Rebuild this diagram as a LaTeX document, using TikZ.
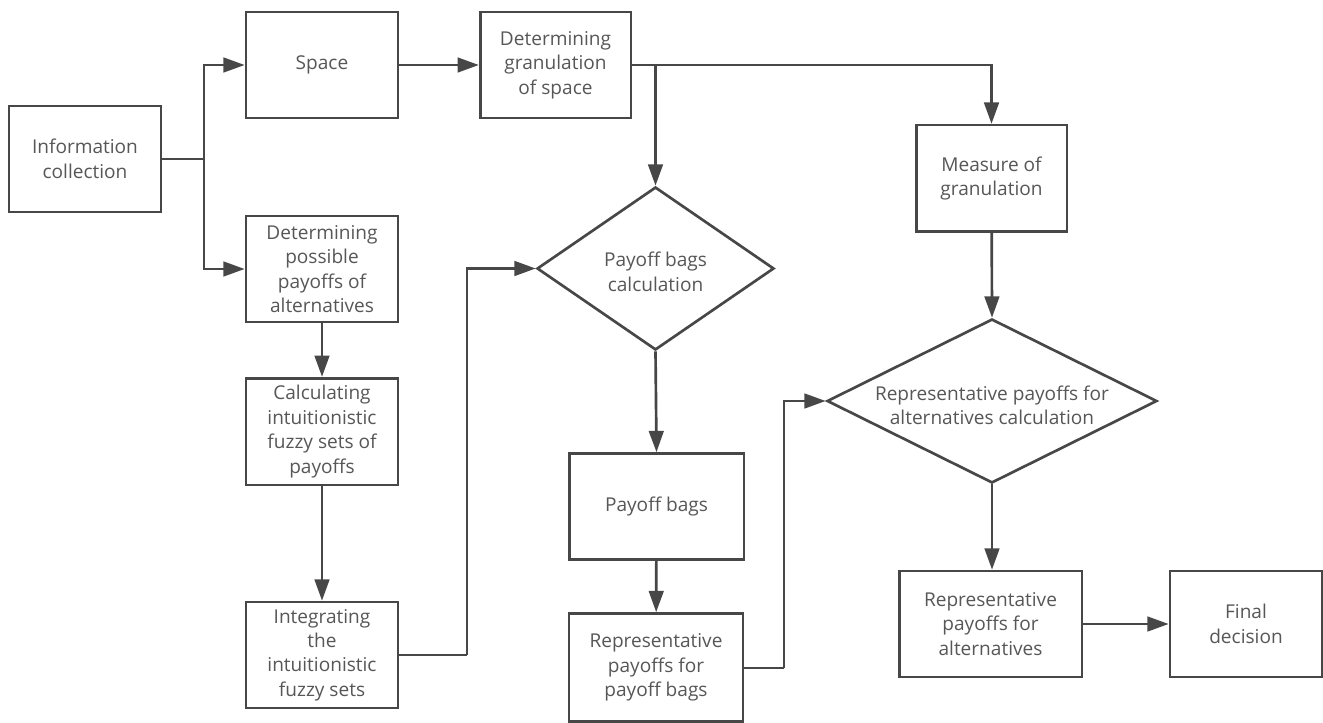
\documentclass[tikz,border=0pt]{standalone}
\usepackage{fontspec}
\setmainfont{Open Sans}
\usetikzlibrary{arrows.meta,shapes.geometric}
\definecolor{linec}{HTML}{474747}
\definecolor{textc}{HTML}{575757}
\tikzset{
  box/.style={draw=linec, line width=2pt, rectangle, inner sep=0pt,
    minimum width=#1, minimum height=79.5pt, align=center,
    font=\fontsize{14.3}{18.3}\selectfont, text=textc},
  box/.default=114pt,
  dia/.style={draw=linec, line width=2pt, shape=diamond, inner sep=0pt},
  lbl/.style={align=center, font=\fontsize{14.3}{18.3}\selectfont, text=textc, inner sep=0pt},
  conn/.style={draw=linec, line width=2pt},
  arr/.style={conn, -{Triangle[length=16pt,width=11pt]}},
}
\begin{document}
\begin{tikzpicture}[x=0.75pt,y=-0.75pt]
\useasboundingbox[fill=white] (0,0) rectangle (1323,723);
% boxes
\node[box] (info) at (85,159) {Information\\collection};
\node[box] (space) at (322,65) {Space};
\node[box=113pt] (gran) at (555.5,65) {Determining\\granulation\\of space};
\node[box] (poss) at (322,269) {Determining\\possible\\payoffs of\\alternatives};
\node[box, minimum height=80pt] (calc) at (322,431.5) {Calculating\\intuitionistic\\fuzzy sets of\\payoffs};
\node[box] (integ) at (322,655) {Integrating\\the\\intuitionistic\\fuzzy sets};
\node[dia, minimum width=177.75pt, minimum height=122.25pt] (d1) at (655.5,268.5) {};
\node[lbl] (d1t) at (655.5,272) {Payoff bags\\calculation};
\node[box=131pt] (bags) at (656.5,506.5) {\raisebox{-3pt}{Payoff bags}};
\node[box=130.5pt, minimum height=81pt] (repbags) at (656,667.5) {Representative\\payoffs for\\payoff bags};
\node[box=113pt, minimum height=80pt] (measure) at (991.5,178.5) {Measure of\\granulation};
\node[dia, minimum width=247.5pt, minimum height=123pt] (d2) at (992,401) {};
\node[lbl] (d2t) at (992,405) {Representative payoffs for\\alternatives calculation};
\node[box=137pt] (repalt) at (990.5,624) {Representative\\payoffs for\\alternatives};
\node[box] (final) at (1246,624) {Final\\decision};
% junctions
\coordinate (j1) at (204,159);
\coordinate (j2) at (655.5,65);
\coordinate (j3) at (467,655);
\coordinate (j4) at (784,668);
% connectors
\draw[conn] (info.east) -- (j1);
\draw[arr] (j1) |- (space.west);
\draw[arr] (j1) |- (poss.west);
\draw[arr] (space) -- (gran);
\draw[conn] (gran.east) -- (j2);
\draw[arr] (j2) -- (d1.north);
\draw[arr] (j2) -| (measure.north);
\draw[arr] (poss) -- (calc);
\draw[arr] (calc) -- (integ);
\draw[conn] (integ.east) -- (j3);
\draw[arr] (j3) |- (d1.west);
\draw[arr] (d1.south) -- (bags.north);
\draw[arr] (bags) -- (repbags);
\draw[conn] (repbags.east |- j4) -- (j4);
\draw[arr] (j4) |- (d2.west);
\draw[arr] (measure) -- (d2.north);
\draw[arr] (d2.south) -- (d2.south |- repalt.north);
\draw[arr] (repalt) -- (final);
\end{tikzpicture}
\end{document}
